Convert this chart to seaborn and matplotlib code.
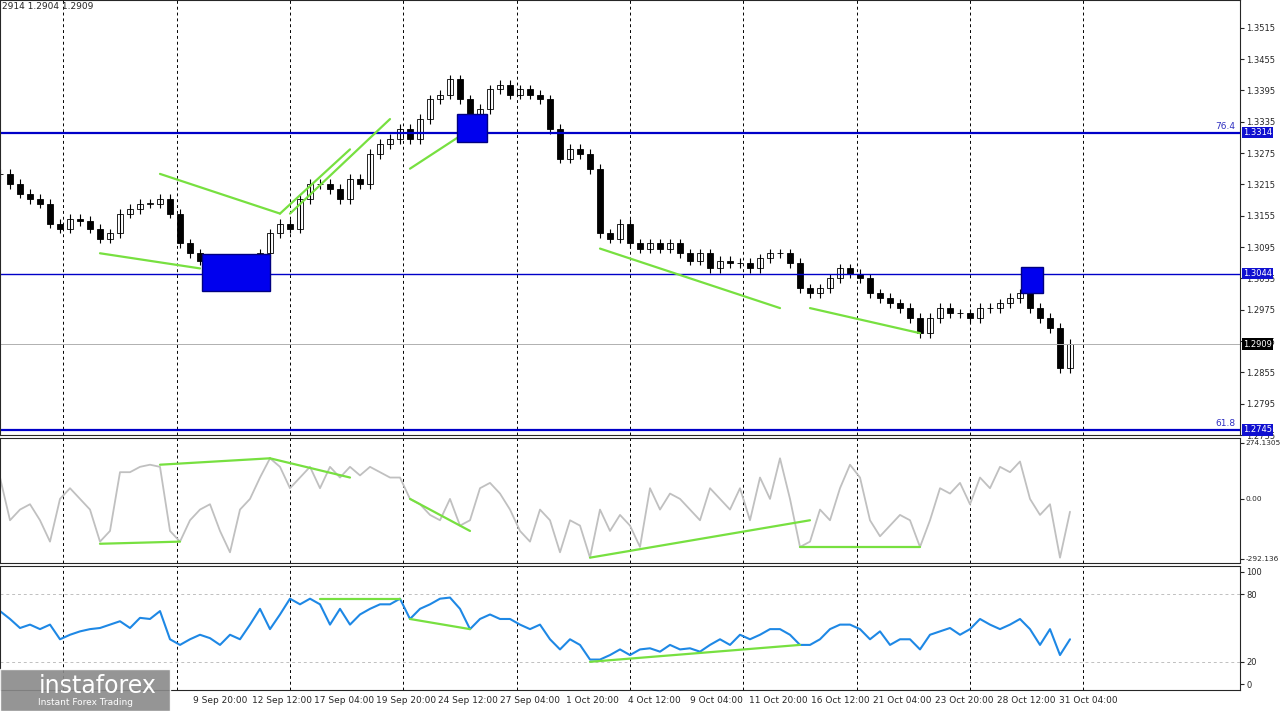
import numpy as np
import pandas as pd
import matplotlib
matplotlib.use("Agg")
import matplotlib.pyplot as plt
from matplotlib.patches import Rectangle
import seaborn as sns

sns.set_style("white")
plt.rcParams['font.family'] = ['DejaVu Sans']

# 4h closes (one every ~2 bars of the original)
closes = [1.3235, 1.3216, 1.3197, 1.3187, 1.3178, 1.3140, 1.3130, 1.3149, 1.3145, 1.3130,
          1.3111, 1.3121, 1.3159, 1.3168, 1.3178, 1.3178, 1.3187, 1.3159, 1.3102, 1.3083,
          1.3069, 1.3064, 1.3064, 1.3054, 1.3044, 1.3064, 1.3083, 1.3121, 1.3140, 1.3130,
          1.3187, 1.3216, 1.3216, 1.3206, 1.3187, 1.3225, 1.3216, 1.3273, 1.3292, 1.3302,
          1.3321, 1.3302, 1.3340, 1.3378, 1.3387, 1.3416, 1.3378, 1.3340, 1.3359, 1.3397,
          1.3406, 1.3387, 1.3397, 1.3387, 1.3378, 1.3321, 1.3264, 1.3283, 1.3273, 1.3244,
          1.3121, 1.3111, 1.3140, 1.3102, 1.3092, 1.3102, 1.3092, 1.3102, 1.3083, 1.3069,
          1.3083, 1.3054, 1.3069, 1.3064, 1.3064, 1.3054, 1.3073, 1.3083, 1.3083, 1.3064,
          1.3016, 1.3006, 1.3016, 1.3035, 1.3054, 1.3044, 1.3035, 1.3006, 1.2997, 1.2987,
          1.2978, 1.2959, 1.2930, 1.2959, 1.2978, 1.2968, 1.2968, 1.2959, 1.2978, 1.2978,
          1.2987, 1.2997, 1.3006, 1.2978, 1.2959, 1.2940, 1.2863, 1.2909]
cci = [100, -100, -50, -25, -100, -200, 0, 50, 0, -50,
       -200, -150, 125, 125, 150, 160, 150, -150, -200, -100,
       -50, -25, -150, -250, -50, 0, 100, 190, 150, 50,
       100, 150, 50, 150, 100, 150, 110, 150, 125, 100,
       100, 0, -25, -75, -100, 0, -125, -100, 50, 75,
       25, -50, -150, -200, -50, -100, -250, -100, -125, -275,
       -50, -150, -75, -125, -225, 50, -50, 25, 0, -50,
       -100, 50, 0, -50, 50, -100, 100, 0, 190, 0,
       -225, -200, -50, -100, 50, 160, 100, -100, -175, -125,
       -75, -100, -225, -100, 50, 25, 75, -25, 100, 50,
       150, 125, 175, 0, -75, -25, -275, -60]
rsi = [65, 58, 50, 53, 49, 53, 40, 44, 47, 49,
       50, 53, 56, 50, 59, 58, 65, 40, 35, 40,
       44, 41, 35, 44, 40, 53, 67, 49, 62, 76,
       71, 76, 71, 53, 67, 53, 62, 67, 71, 71,
       76, 58, 67, 71, 76, 77, 67, 49, 58, 62,
       58, 58, 53, 49, 53, 40, 31, 40, 35, 22,
       22, 26, 31, 26, 31, 32, 29, 35, 31, 32,
       29, 35, 40, 35, 44, 40, 44, 49, 49, 44,
       35, 35, 40, 49, 53, 53, 49, 40, 47, 35,
       40, 40, 31, 44, 47, 50, 44, 49, 58, 53,
       49, 53, 58, 49, 35, 49, 26, 40]

levels = {"76.4": 1.3314, "": 1.3044, "61.8": 1.2745}
price_ticks = [1.3515, 1.3455, 1.3395, 1.3335, 1.3275, 1.3215, 1.3155, 1.3095, 1.3035,
               1.2975, 1.2915, 1.2855, 1.2795, 1.2735]
date_labels = ["9 Sep 20:00", "12 Sep 12:00", "17 Sep 04:00", "19 Sep 20:00", "24 Sep 12:00",
               "27 Sep 04:00", "1 Oct 20:00", "4 Oct 12:00", "9 Oct 04:00", "11 Oct 20:00",
               "16 Oct 12:00", "21 Oct 04:00", "23 Oct 20:00", "28 Oct 12:00", "31 Oct 04:00"]
date_pos = [22.0, 28.2, 34.4, 40.6, 46.8, 53.0, 59.2, 65.4, 71.6, 77.8, 84.0, 90.2, 96.4, 102.6, 108.8]
grid_x = [6.3, 17.7, 29.0, 40.3, 51.7, 63.0, 74.3, 85.7, 97.0, 108.3]

# trend lines (bar index, value)
price_lines = [[(10, 1.3083), (20, 1.3054)], [(16, 1.3235), (28, 1.3159)], [(28, 1.3159), (35, 1.3282)],
               [(29, 1.3159), (39, 1.3340)], [(41, 1.3245), (47, 1.3320)], [(60, 1.3092), (78, 1.2978)],
               [(81, 1.2978), (92, 1.2930)]]
cci_lines = [[(10, -210), (18, -200)], [(16, 160), (27, 190)], [(27, 190), (35, 100)],
             [(41, 0), (47, -150)], [(59, -275), (81, -100)], [(80, -225), (92, -225)]]
rsi_lines = [[(32, 76), (40, 76)], [(41, 58), (47, 49)], [(59, 20), (80, 35)]]
boxes = [(20.2, 1.3010, 6.8, 0.0072), (45.7, 1.3296, 3.0, 0.0053), (102.1, 1.3006, 2.2, 0.0051)]

df = pd.DataFrame({"bar": np.arange(len(closes)), "close": closes, "cci": cci, "rsi": rsi})
df["open"] = df["close"].shift(1).fillna(df["close"])

fig = plt.figure(figsize=(12.8, 7.11), dpi=100)
ax1 = fig.add_axes([0, 1 - 435 / 711, 1240 / 1280, 435 / 711])
ax2 = fig.add_axes([0, 1 - 563 / 711, 1240 / 1280, 125 / 711])
ax3 = fig.add_axes([0, 1 - 690 / 711, 1240 / 1280, 124 / 711])

for ax in (ax1, ax2, ax3):
    ax.set_xlim(0, 124)
    for gx in grid_x:
        ax.axvline(gx, color="black", ls=(0, (3, 3)), lw=0.7)
    ax.yaxis.tick_right()
    ax.tick_params(axis="y", labelsize=6, length=3, pad=1.5, right=True)
    ax.set_xticks([])
    for s in ax.spines.values():
        s.set_linewidth(0.8)

# candles
for _, r in df.iterrows():
    lo, hi = min(r.open, r.close), max(r.open, r.close)
    ax1.vlines(r.bar, lo - 0.0009, hi + 0.0009, color="black", lw=0.8)
    ax1.add_patch(Rectangle((r.bar - 0.3, lo), 0.6, max(hi - lo, 0.00005),
                            facecolor="white" if r.close >= r.open else "black",
                            edgecolor="black", lw=0.6))
for name, v in levels.items():
    ax1.axhline(v, color="#0000c8", lw=1.6 if name else 1.0)
    if name:
        ax1.text(123.5, v + 0.0004, name, color="#3030c0", fontsize=6.5, ha="right", va="bottom")
    ax1.text(124.3, v, f"{v:.4f}", color="white", fontsize=6, va="center",
             bbox=dict(boxstyle="square,pad=0.15", fc="#1010d0", ec="none"), clip_on=False)
ax1.axhline(closes[-1], color="#b0b0b0", lw=0.7)
ax1.text(124.3, closes[-1], f"{closes[-1]:.4f}", color="white", fontsize=6, va="center",
         bbox=dict(boxstyle="square,pad=0.15", fc="black", ec="none"), clip_on=False)
for x0, y0, w, h in boxes:
    ax1.add_patch(Rectangle((x0, y0), w, h, facecolor="#0000ee", edgecolor="#000080", zorder=5))
for seg in price_lines:
    ax1.plot(*zip(*seg), color="#77e040", lw=1.6)
ax1.set_ylim(1.2738, 1.3568)
ax1.set_yticks(price_ticks)
ax1.text(0.002, 0.995, "2914 1.2904 1.2909", transform=ax1.transAxes, fontsize=6.5, va="top")

sns.lineplot(data=df, x="bar", y="cci", ax=ax2, color="#c0c0c0", lw=1.3)
for seg in cci_lines:
    ax2.plot(*zip(*seg), color="#77e040", lw=1.6)
ax2.set_ylim(-300, 285)
ax2.set_yticks([262, 0, -280])
ax2.set_yticklabels(["274.1305", "0.00", "-292.136"])
ax2.tick_params(axis="y", labelsize=5.3, pad=1)

ax3.axhline(80, color="#c0c0c0", ls=(0, (3, 3)), lw=0.7)
ax3.axhline(20, color="#c0c0c0", ls=(0, (3, 3)), lw=0.7)
sns.lineplot(data=df, x="bar", y="rsi", ax=ax3, color="#1e88e5", lw=1.5)
for seg in rsi_lines:
    ax3.plot(*zip(*seg), color="#77e040", lw=1.6)
ax3.set_ylim(-5, 105)
ax3.set_yticks([100, 80, 20, 0])

for ax in (ax1, ax2, ax3):
    ax.set_xlabel("")
    ax.set_ylabel("")
    ax.set_xlim(0, 124)

for lbl, p in zip(date_labels, date_pos):
    fig.text(p / 124 * 1240 / 1280, 0.009, lbl, fontsize=6.5, ha="center", va="bottom")

# logo
fig.patches.append(Rectangle((0, 0), 170 / 1280, 42 / 711, transform=fig.transFigure,
                             facecolor="#8a8a8a", alpha=0.9, zorder=10))
fig.text(0.03, 0.035, "instaforex", color="white", fontsize=17, zorder=11, va="center")
fig.text(0.03, 0.008, "Instant Forex Trading", color="white", fontsize=6.5, zorder=11)

fig.savefig("out.png", dpi=100)
